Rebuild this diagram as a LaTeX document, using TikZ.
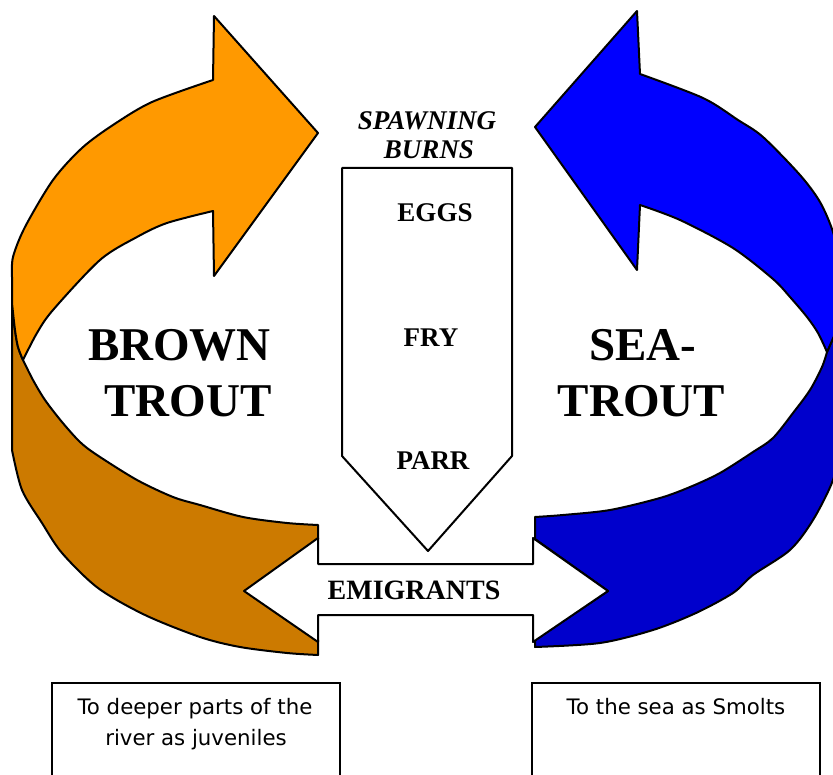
\documentclass[tikz,border=0pt]{standalone}
\usepackage{fontspec}
\setmainfont{Liberation Serif}
\newfontfamily\boxfont{DejaVu Sans}
\definecolor{orL}{HTML}{FF9900}
\definecolor{orD}{HTML}{CC7A00}
\definecolor{blL}{HTML}{0000FF}
\definecolor{blD}{HTML}{0000CC}
\begin{document}
\begin{tikzpicture}[x=1pt,y=-1pt,
  outl/.style={draw=black, line width=2pt, line join=round},
  big/.style={font=\fontsize{47}{56}\selectfont\bfseries, anchor=base, inner sep=0pt},
  stage/.style={font=\fontsize{27}{32}\selectfont\bfseries, anchor=base, inner sep=0pt},
  spawn/.style={font=\fontsize{27}{32}\selectfont\bfseries\itshape, anchor=base, inner sep=0pt},
  boxtxt/.style={font=\fontsize{21.3}{31}\selectfont\boxfont, anchor=base, inner sep=0pt},
  infobox/.style={draw=black, line width=1.6pt, minimum width=288pt, minimum height=110pt, inner sep=0pt}
]
\useasboundingbox (0,0) rectangle (833,775);
\begin{scope}
\clip (0,0) rectangle (833,775);
% orange arrow, dark lower part
\filldraw[outl, fill=orD] (12,303) -- (12,450)
 -- plot[smooth,tension=.5] coordinates {(12,450) (22,490) (42,523) (62,553) (98,588) (145,615) (200,637) (240,647) (287,653) (318,655)}
 -- (318,640) -- (245,591) -- (318,539) -- (318,525)
 -- plot[smooth,tension=.5] coordinates {(318,525) (287,523) (243,517) (200,505) (173,497) (137,480) (97,455) (80,442) (62,422) (45,400) (33,380) (23,360)}
 -- plot[smooth,tension=.5] coordinates {(23,360) (18,347) (15,330) (12,303)} -- cycle;
% orange arrow, light upper part
\filldraw[outl, fill=orL] (318,133) -- (214,16) -- (213,80)
 -- plot[smooth,tension=.5] coordinates {(213,80) (152,102) (113,125) (82,148) (53,180) (25,227) (13,257) (12,277)}
 -- (12,303)
 -- plot[smooth,tension=.5] coordinates {(12,303) (15,330) (18,347) (23,360)}
 -- plot[smooth,tension=.5] coordinates {(23,360) (37,333) (53,310) (100,260) (137,237) (167,223) (213,211)}
 -- (214,276) -- cycle;
% blue arrow, dark lower part
\filldraw[outl, fill=blD] (842,318) -- (842,440)
 -- plot[smooth,tension=.5] coordinates {(842,440) (833,480) (813,520) (790,550) (753,575) (733,593) (696,613) (653,630) (600,643) (535,647)}
 -- (535,640) -- (608,591) -- (535,539) -- (535,517)
 -- plot[smooth,tension=.5] coordinates {(535,517) (563,515) (610,510) (660,498) (690,487) (720,473) (753,452) (773,438) (793,413) (810,390) (822,367) (827,352)}
 -- (842,318) -- cycle;
% blue arrow, light upper part
\filldraw[outl, fill=blL] (535,127) -- (637,11) -- (640,74)
 -- plot[smooth,tension=.5] coordinates {(640,74) (703,98) (738,120) (763,137) (800,175) (820,202) (833,232) (840,265) (842,300)}
 -- (842,318) -- (827,352)
 -- plot[smooth,tension=.5] coordinates {(827,352) (818,333) (807,317) (790,297) (773,279) (733,248) (680,220) (640,205)}
 -- (637,270) -- cycle;
% central downward arrow
\filldraw[outl, fill=white] (342,168) -- (512,168) -- (512,456) -- (428,551) -- (342,456) -- cycle;
% double arrow
\filldraw[outl, fill=white] (244,591) -- (318,538) -- (318,564) -- (533,564) -- (533,538) -- (608,591) -- (533,642) -- (533,615) -- (318,615) -- (318,642) -- cycle;
% bottom boxes
\node[infobox] (leftbox) at (196,738) {};
\node[infobox] (rightbox) at (676,738) {};
\end{scope}
% texts
\node[big] (brown) at (179.5,361) {BROWN};
\node[big] (troutL) at (188,417) {TROUT};
\node[big] (sea) at (643,361) {SEA-};
\node[big] (troutR) at (641.5,417) {TROUT};
\node[spawn] (spawning) at (427,130) {SPAWNING};
\node[spawn] (burns) at (429,159) {BURNS};
\node[stage] (eggs) at (435,222) {EGGS};
\node[stage] (fry) at (431,347) {FRY};
\node[stage] (parr) at (433,469) {PARR};
\node[stage, font=\fontsize{28}{32}\selectfont\bfseries] (emig) at (414,599) {EMIGRANTS};
\node[boxtxt] (lt1) at (195,714) {To deeper parts of the};
\node[boxtxt] (lt2) at (196,745) {river as juveniles};
\node[boxtxt] (rt1) at (676,714) {To the sea as Smolts};
\end{tikzpicture}
\end{document}
